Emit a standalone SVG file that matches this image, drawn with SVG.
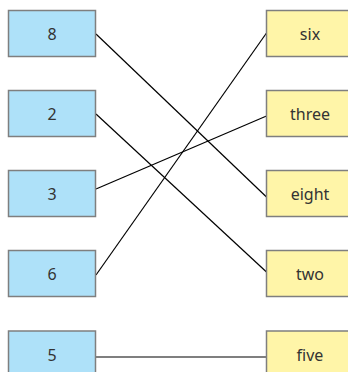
<svg xmlns="http://www.w3.org/2000/svg" width="348" height="372" viewBox="0 0 348 372">
<style>
.l rect{fill:#aee1f9;stroke:#7f7f7f;stroke-width:1.5}
.r rect{fill:#fff5a8;stroke:#7f7f7f;stroke-width:1.5}
text{font-family:"Noto Sans","Open Sans",sans-serif;font-size:16px;fill:#333;text-anchor:middle;dominant-baseline:central}
#edges line{stroke:#000;stroke-width:1.2}
</style>
<rect width="348" height="372" fill="#fff"/>
<g id="edges">
<line x1="96" y1="34" x2="266.5" y2="197"/>
<line x1="96" y1="114" x2="266.5" y2="272"/>
<line x1="96" y1="189" x2="266.5" y2="116"/>
<line x1="96" y1="275" x2="266.5" y2="33"/>
<line x1="96" y1="357" x2="266.5" y2="357"/>
</g>
<g id="n8" class="l"><rect x="8.5" y="10.5" width="87" height="46"/><text x="52" y="34">8</text></g>
<g id="n2" class="l"><rect x="8.5" y="90.5" width="87" height="46"/><text x="52" y="114">2</text></g>
<g id="n3" class="l"><rect x="8.5" y="170.5" width="87" height="46"/><text x="52" y="194">3</text></g>
<g id="n6" class="l"><rect x="8.5" y="250.5" width="87" height="46"/><text x="52" y="274">6</text></g>
<g id="n5" class="l"><rect x="8.5" y="331" width="87" height="46"/><text x="52" y="355">5</text></g>
<g id="six" class="r"><rect x="266.5" y="10.5" width="87" height="46"/><text x="310" y="34">six</text></g>
<g id="three" class="r"><rect x="266.5" y="90.5" width="87" height="46"/><text x="310" y="114">three</text></g>
<g id="eight" class="r"><rect x="266.5" y="170.5" width="87" height="46"/><text x="310" y="194">eight</text></g>
<g id="two" class="r"><rect x="266.5" y="250.5" width="87" height="46"/><text x="310" y="274">two</text></g>
<g id="five" class="r"><rect x="266.5" y="331" width="87" height="46"/><text x="310" y="355">five</text></g>
</svg>
